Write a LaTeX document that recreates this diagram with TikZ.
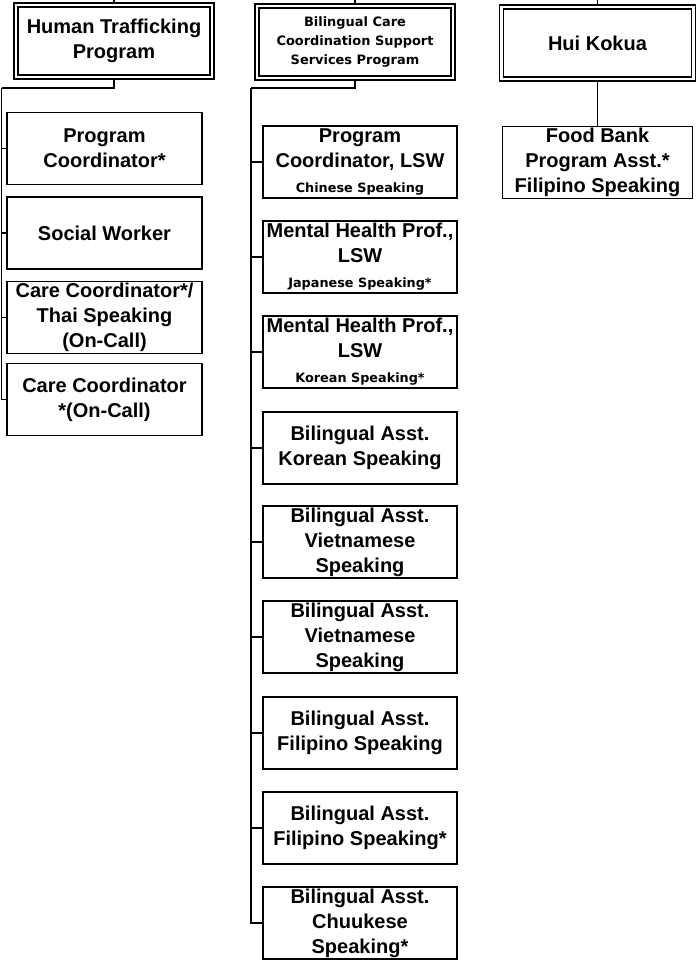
\documentclass[tikz,border=0pt]{standalone}
\usepackage{fontspec}
\setmainfont{Liberation Sans}
\newfontfamily\smallsans{DejaVu Sans}

\tikzset{every picture/.style={line width=1.2pt}}
\tikzset{
  progbox/.style={draw, double, double distance=1.8pt, line width=1pt, minimum width=147pt, minimum height=54pt, inner sep=0pt, align=center, font=\bfseries\fontsize{15}{18.75}\selectfont},
  staffbox/.style={draw, line width=1.4pt, minimum width=146pt, minimum height=54pt, inner sep=0pt, align=center, font=\bfseries\fontsize{15}{18.75}\selectfont},
  titlefont/.style={font=\smallsans\bfseries\fontsize{9.7}{14.5}\selectfont}
}
\newcommand{\smalltxt}[1]{{\smallsans\bfseries\fontsize{9.6}{11}\selectfont #1}}

\begin{document}
\begin{tikzpicture}[x=0.75pt,y=0.75pt,yscale=-1,xscale=1]
\useasboundingbox (0,0) rectangle (698,963);

%Shape: Program boxes
\node[progbox] (ht) at (114,41) {Human Trafficking\\Program};
\node[progbox, titlefont] (bc) at (355,42) {Bilingual Care\\Coordination Support\\Services Program};
\node[progbox, minimum width=144pt] (hk) at (597.5,43) {Hui Kokua};

%Shape: Human Trafficking staff
\node[staffbox] (pcoord) at (104.5,148.5) {Program\\Coordinator*};
\node[staffbox] (socwork) at (104.5,233) {Social Worker};
\node[staffbox] (thaicc) at (104.5,317.5) {Care Coordinator*/\\Thai Speaking\\(On-Call)};
\node[staffbox] (oncallcc) at (104.5,399.5) {Care Coordinator\\*(On-Call)};

%Shape: Bilingual care staff
\node[staffbox, minimum width=145pt] (chinese) at (360,162) {Program\\Coordinator, LSW\\\smalltxt{Chinese Speaking}};
\node[staffbox, minimum width=145pt] (japanese) at (360,257) {Mental Health Prof.,\\LSW\\\smalltxt{Japanese Speaking*}};
\node[staffbox, minimum width=145pt] (korean) at (360,352) {Mental Health Prof.,\\LSW\\\smalltxt{Korean Speaking*}};
\node[staffbox, minimum width=145pt] (korasst) at (360,448) {Bilingual Asst.\\Korean Speaking};
\node[staffbox, minimum width=145pt] (vieta) at (360,542) {Bilingual Asst.\\Vietnamese\\Speaking};
\node[staffbox, minimum width=145pt] (vietb) at (360,637) {Bilingual Asst.\\Vietnamese\\Speaking};
\node[staffbox, minimum width=145pt] (fila) at (360,733) {Bilingual Asst.\\Filipino Speaking};
\node[staffbox, minimum width=145pt] (filb) at (360,828) {Bilingual Asst.\\Filipino Speaking*};
\node[staffbox, minimum width=145pt] (chuuk) at (360,923) {Bilingual Asst.\\Chuukese\\Speaking*};

%Shape: Hui Kokua staff
\node[staffbox, minimum width=142.5pt] (foodbank) at (597.5,162.5) {Food Bank\\Program Asst.*\\Filipino Speaking};

% Free ends
\coordinate (httop) at (114,0);
\coordinate (bctop) at (355,0);
\coordinate (hktop) at (597.5,0);
\coordinate (lefttrunk) at (1.5,88);
\coordinate (midtrunk) at (251,88);

%Straight Lines
\draw (ht.north) -- (httop);
\draw (bc.north) -- (bctop);
\draw (hk.north) -- (hktop);
\draw (ht.south) |- (lefttrunk);
\draw (bc.south) |- (midtrunk);
\draw (hk.south) -- (foodbank.north);

%Straight Lines: left branch
\draw (lefttrunk) |- (pcoord.west);
\draw (lefttrunk) |- (socwork.west);
\draw (lefttrunk) |- (thaicc.west);
\draw (lefttrunk) |- (oncallcc.west);

%Straight Lines: middle branch
\draw (midtrunk) |- (chinese.west);
\draw (midtrunk) |- (japanese.west);
\draw (midtrunk) |- (korean.west);
\draw (midtrunk) |- (korasst.west);
\draw (midtrunk) |- (vieta.west);
\draw (midtrunk) |- (vietb.west);
\draw (midtrunk) |- (fila.west);
\draw (midtrunk) |- (filb.west);
\draw (midtrunk) |- (chuuk.west);

\end{tikzpicture}
\end{document}
